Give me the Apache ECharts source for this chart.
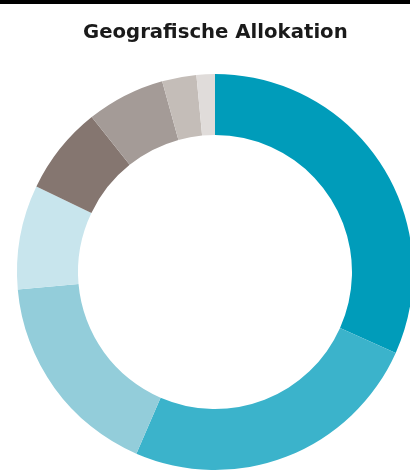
<!DOCTYPE html>
<html>
<head>
<meta charset="utf-8">
<script src="https://cdn.jsdelivr.net/npm/echarts@6/dist/echarts.min.js"></script>
<style>
  html, body { margin: 0; padding: 0; background: #fff; }
  #chart { width: 410px; height: 473px; }
</style>
</head>
<body>
<div id="chart"></div>
<script>
// Regionen (Anteile in %)
var regions = ['Region 1', 'Region 2', 'Region 3', 'Region 4', 'Region 5', 'Region 6', 'Region 7', 'Region 8']
var shares = [31.7, 24.8, 17.1, 8.5, 7.2, 6.4, 2.8, 1.5]
var colors = ['#009cba', '#3bb3cb', '#93cdda', '#c8e5ed', '#857670', '#a49b97', '#c4bdb8', '#e0dcda']

var chart = echarts.init(document.getElementById('chart'))

var pieData = regions.map(function (name, i) {
    return { name: name, value: shares[i], itemStyle: { color: colors[i] } }
})

var option = {
    animation: false,
    title: {
        text: 'Geografische Allokation',
        left: 78,
        top: 18,
        textStyle: {
            fontFamily: 'DejaVu Sans',
            fontWeight: 'bold',
            fontSize: 19.7,
            color: '#1a1a1a'
        }
    },
    graphic: [{
        type: 'rect',
        shape: { x: 0, y: 0, width: 410, height: 4 },
        style: { fill: '#000' }
    }],
    series: [{
        name: 'Geografische Allokation',
        type: 'pie',
        center: [215, 272],
        radius: [137, 198],
        startAngle: 90,
        clockwise: true,
        label: { show: false },
        labelLine: { show: false },
        emphasis: { disabled: true },
        itemStyle: { borderWidth: 0 },
        data: pieData
    }]
}
chart.setOption(option)
</script>
</body>
</html>
